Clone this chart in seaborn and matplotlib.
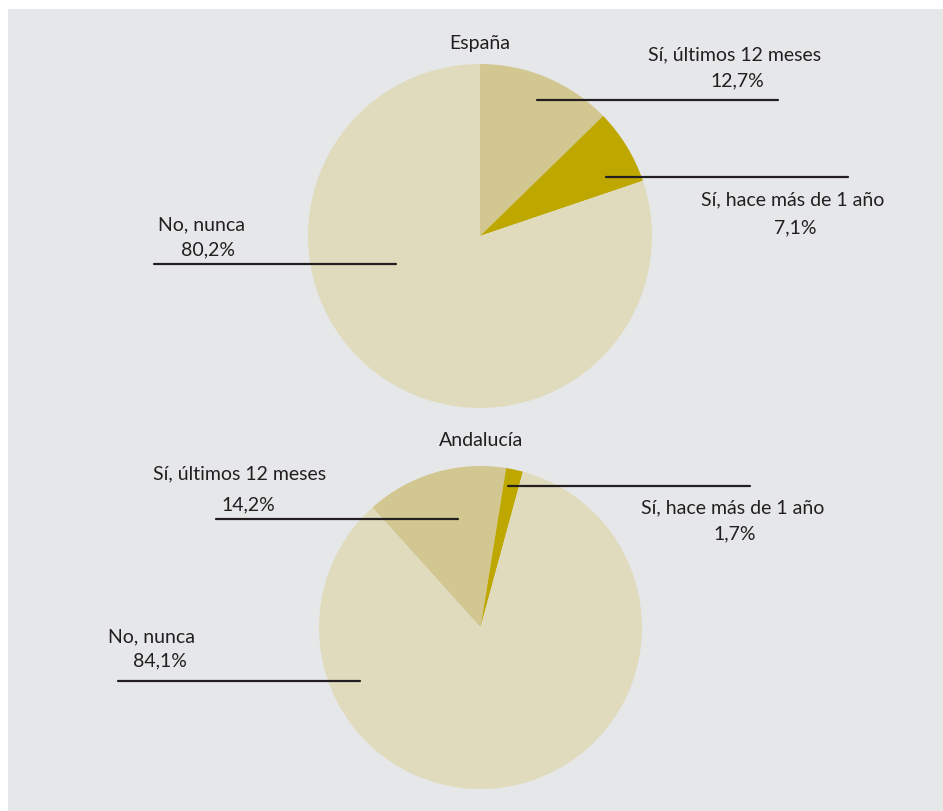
import matplotlib
matplotlib.use("Agg")
import matplotlib.pyplot as plt
from matplotlib.patches import Rectangle
import seaborn as sns

# Survey answers: share of respondents (%)
categories = ["Sí, últimos 12 meses", "Sí, hace más de 1 año", "No, nunca"]
espana_values = [12.7, 7.1, 80.2]
andalucia_values = [14.2, 1.7, 84.1]
value_labels_es = ["12,7%", "7,1%", "80,2%"]
value_labels_an = ["14,2%", "1,7%", "84,1%"]
titles = ["España", "Andalucía"]

sns.set_theme(style="white")
plt.rcParams["font.family"] = ["Lato", "DejaVu Sans"]

palette = sns.color_palette(["#d3c791", "#bea800", "#e0dbbd"])
bg = "#e6e7e9"
ink = "#231f20"

W, H = 943, 811
fig = plt.figure(figsize=(W / 100, H / 100), dpi=100)
fig.patch.set_facecolor("white")

# pixel-coordinate overlay for the panel, leader lines and labels
ov = fig.add_axes([0, 0, 1, 1])
ov.set_xlim(0, W)
ov.set_ylim(H, 0)
ov.axis("off")
ov.add_patch(Rectangle((8, 9), W - 8, H - 9, facecolor=bg, edgecolor="none", zorder=0))


def pie_axes(cx, cy, r):
    ax = fig.add_axes([(cx - r) / W, (H - cy - r) / H, 2 * r / W, 2 * r / H])
    ax.set_zorder(1)
    ax.patch.set_alpha(0)
    return ax


ax1 = pie_axes(480, 236, 172)
ax1.pie(espana_values, colors=palette, startangle=90, counterclock=False,
        wedgeprops=dict(linewidth=0))
ax1.set_xlim(-1, 1)
ax1.set_ylim(-1, 1)

ax2 = pie_axes(480.5, 627.5, 161.5)
ax2.pie(andalucia_values, colors=palette, startangle=132, counterclock=False,
        wedgeprops=dict(linewidth=0))
ax2.set_xlim(-1, 1)
ax2.set_ylim(-1, 1)

top = fig.add_axes([0, 0, 1, 1])
top.set_xlim(0, W)
top.set_ylim(H, 0)
top.axis("off")
top.set_zorder(2)
top.patch.set_alpha(0)

fs = 14
kw = dict(color=ink, fontsize=fs, ha="center", va="center")

top.text(480, 44, titles[0], **kw)
top.text(481, 440, titles[1], **kw)

lw = 1.6
# España leaders
top.plot([537, 778], [100, 100], color=ink, lw=lw)
top.plot([606, 848], [177, 177], color=ink, lw=lw)
top.plot([154, 396], [264, 264], color=ink, lw=lw)
top.text(735, 55, categories[0], **kw)
top.text(737, 81, value_labels_es[0], **kw)
top.text(793, 200, categories[1], **kw)
top.text(795, 228, value_labels_es[1], **kw)
top.text(201, 225, categories[2], **kw)
top.text(208, 250, value_labels_es[2], **kw)

# Andalucía leaders
top.plot([508, 750], [486, 486], color=ink, lw=lw)
top.plot([216, 458], [519, 519], color=ink, lw=lw)
top.plot([118, 360], [681, 681], color=ink, lw=lw)
top.text(733, 508, categories[1], **kw)
top.text(735, 534, value_labels_an[1], **kw)
top.text(240, 474, categories[0], **kw)
top.text(248, 505, value_labels_an[0], **kw)
top.text(151, 637, categories[2], **kw)
top.text(160, 661, value_labels_an[2], **kw)

fig.savefig("out.png", dpi=100)
